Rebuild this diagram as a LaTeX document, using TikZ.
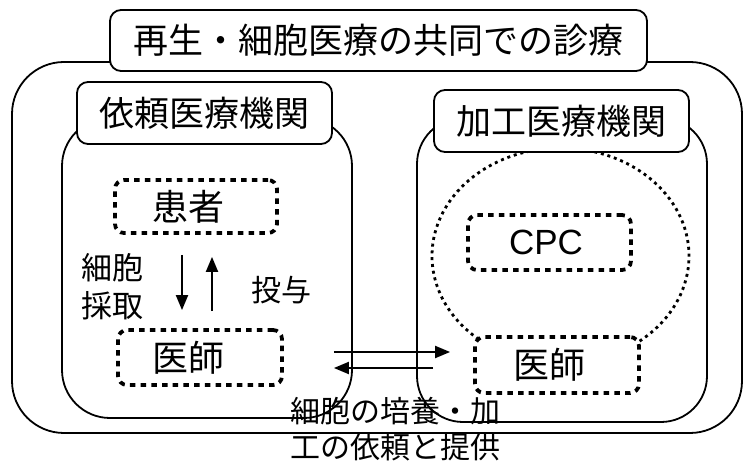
\documentclass[tikz,border=0pt]{standalone}
\usepackage{fontspec}
\setmainfont{Noto Sans CJK JP}
\newfontfamily\latinsans{Liberation Sans}
\usepackage{tikz}
\usetikzlibrary{arrows.meta,positioning,calc}

\begin{document}
\begin{tikzpicture}[x=1pt, y=1pt,
    frame/.style={line width=1.8pt, rounded corners=#1},
    frame/.default=50pt,
    tagbox/.style={draw, line width=1.8pt, fill=white, rounded corners=11pt,
        inner sep=0pt, minimum height=61pt, font=\fontsize{35pt}{40pt}\selectfont},
    dotbox/.style={draw, line width=3.8pt, dash pattern=on 5.5pt off 5.2pt,
        rounded corners=9pt, fill=white, inner sep=0pt, minimum width=163pt,
        minimum height=55pt, font=\fontsize{36pt}{40pt}\selectfont},
    ringline/.style={line width=2.8pt, dash pattern=on 3pt off 3.8pt},
    flow/.style={line width=2pt, -{Triangle[length=15pt,width=12pt]}},
    txt/.style={inner sep=0pt, font=\fontsize{30pt}{36pt}\selectfont}]
    \useasboundingbox (0,0) rectangle (744,463);

    % Frames
    \draw[frame=52pt] (12,30) rectangle (742,401);
    \draw[frame=48pt] (62,45) rectangle (352,345);
    \draw[frame=46pt] (417,41) rectangle (707,345);

    % Dotted ring round the CPC
    \coordinate (ring) at (560.5,207);
    \draw[ringline] (ring) ++(-52:128.5pt and 108pt)
        arc[start angle=-52, end angle=230, x radius=128.5pt, y radius=108pt];

    % Tags
    \node[tagbox, minimum width=537pt] (title) at (378.5,422.5) {再生・細胞医療の共同での診療};
    \node[tagbox, minimum width=255pt, minimum height=62pt] (reqtag) at (204.5,350) {依頼医療機関};
    \node[tagbox, minimum width=255pt, minimum height=62pt] (proctag) at (561.5,342) {加工医療機関};

    % Dotted boxes
    \node[dotbox, minimum width=162pt, minimum height=53pt] (patient) at (196,256.5) {患者\hspace*{16pt}};
    \node[dotbox, minimum width=164pt] (docL) at (200,105.5) {医師\hspace*{24pt}};
    \node[dotbox, font=\latinsans\fontsize{35pt}{40pt}\selectfont] (cpc) at (549.5,220.5) {CPC\hspace*{7pt}};
    \node[dotbox, minimum width=164pt, minimum height=56pt] (docR) at (557,98) {医師\hspace*{16pt}};

    % Arrows
    \draw[flow] ([xshift=-14pt,yshift=-20pt]patient.south) -- ([xshift=-18pt,yshift=18pt]docL.north);
    \draw[flow] ([xshift=12pt,yshift=17pt]docL.north) -- ([xshift=16pt,yshift=-22pt]patient.south);
    \draw[flow] ([xshift=50pt,yshift=5.5pt]docL.east) -- ([xshift=-23pt,yshift=13pt]docR.west);
    \draw[flow] ([xshift=-40pt,yshift=-3pt]docR.west) -- ([xshift=50pt,yshift=-10.5pt]docL.east);

    % Texts
    \node[txt, font=\fontsize{31pt}{38pt}\selectfont, align=left] (take) at (112.5,176) {細胞\\採取};
    \node[txt] (give) at (281.5,173) {投与};
    \node[txt, align=left] (order) at (395,34) {細胞の培養・加\\工の依頼と提供};
\end{tikzpicture}
\end{document}
